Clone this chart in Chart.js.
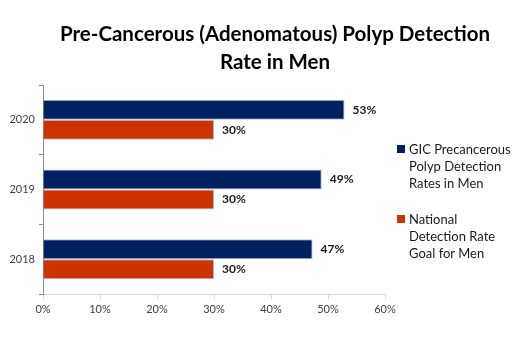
<!DOCTYPE html>
<html lang="en">
<head>
  <meta charset="UTF-8">
  <title>Polyp Detection Rate in Men</title>
  <script src="https://cdn.jsdelivr.net/npm/chart.js"></script>
  <style>
    body { margin: 0; background: #fff; font-family: Lato, sans-serif; }
    #wrap { position: relative; width: 522px; height: 353px; }
    #titulo {
      position: absolute; left: 28px; width: 494px; top: 19px;
      text-align: center; font-weight: bold; font-size: 20.5px; line-height: 28px; color: #000;
    }
    #leyenda { position: absolute; left: 397px; top: 141px; font-size: 13px; line-height: 17px; color: #1a1a1a; }
    .item { position: relative; padding-left: 12px; margin-bottom: 19px; width: 122px; }
    .caja { position: absolute; left: 0; top: 4px; width: 8px; height: 8px; }
  </style>
</head>
<body>
<div id="wrap">
  <canvas id="grafico" width="522" height="353"></canvas>
  <div id="titulo">Pre-Cancerous (Adenomatous) Polyp Detection<br>Rate in Men</div>
  <div id="leyenda"></div>
</div>

<script>
  // datos
  const anios = ['2020', '2019', '2018'];
  const gic = [52.9, 48.9, 47.3];
  const nacional = [30, 30, 30];
  const nombres = ['GIC Precancerous Polyp Detection Rates in Men', 'National Detection Rate Goal for Men'];
  const colores = ['#002060', '#cc3300'];

  // etiquetas de valor al final de cada barra
  const etiquetas = {
    id: 'etiquetas',
    afterDatasetsDraw(chart) {
      const ctx = chart.ctx;
      ctx.save();
      ctx.font = 'bold 12px Lato';
      ctx.fillStyle = '#1a1a1a';
      ctx.textBaseline = 'middle';
      chart.data.datasets.forEach((ds, i) => {
        chart.getDatasetMeta(i).data.forEach((bar, j) => {
          ctx.fillText(Math.round(ds.data[j]) + '%', bar.x + 8, bar.y);
        });
      });
      ctx.restore();
    }
  };

  const ctx = document.getElementById('grafico').getContext('2d');
  new Chart(ctx, {
    type: 'bar',
    data: {
      labels: anios,
      datasets: [
        { label: nombres[0], data: gic, backgroundColor: colores[0], borderColor: '#aebbd3', borderWidth: 1, borderSkipped: 'left' },
        { label: nombres[1], data: nacional, backgroundColor: colores[1], borderColor: '#aebbd3', borderWidth: 1, borderSkipped: 'left' }
      ]
    },
    options: {
      indexAxis: 'y',
      responsive: false,
      animation: false,
      barPercentage: 1,
      categoryPercentage: 0.574,
      layout: { padding: { top: 85, right: 137, left: 0, bottom: 0 } },
      plugins: {
        legend: { display: false },
        title: { display: false },
        tooltip: { enabled: false }
      },
      scales: {
        x: {
          min: 0,
          max: 60,
          afterFit: s => { s.height = 59; },
          border: { color: '#d9d9d9' },
          grid: { drawOnChartArea: false, color: '#d9d9d9', tickLength: 5 },
          ticks: { stepSize: 10, padding: 4, color: '#404040', font: { family: 'Lato', size: 11 }, callback: v => v + '%' }
        },
        y: {
          afterFit: s => { s.width = 43; },
          border: { color: '#8c8c8c' },
          grid: { drawOnChartArea: false, color: '#8c8c8c', tickLength: 4 },
          ticks: { padding: 4, color: '#404040', font: { family: 'Lato', size: 11 } }
        }
      }
    },
    plugins: [etiquetas]
  });

  // leyenda en html con texto partido en lineas
  const partes = [['GIC Precancerous', 'Polyp Detection', 'Rates in Men'], ['National', 'Detection Rate', 'Goal for Men']];
  const leyenda = document.getElementById('leyenda');
  partes.forEach((lineas, i) => {
    const d = document.createElement('div');
    d.className = 'item';
    d.innerHTML = '<span class="caja" style="background:' + colores[i] + '"></span>' + lineas.join('<br>');
    leyenda.appendChild(d);
  });
</script>
</body>
</html>
